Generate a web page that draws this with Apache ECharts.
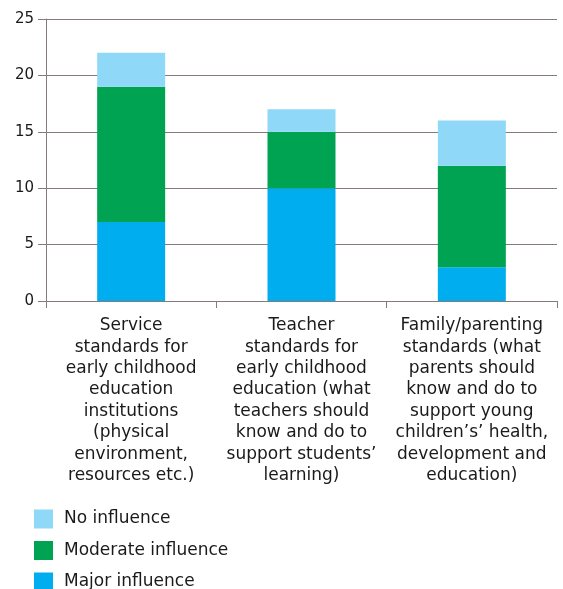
<!DOCTYPE html>
<html>
<head>
<meta charset="utf-8">
<script src="https://cdn.jsdelivr.net/npm/echarts@6/dist/echarts.min.js"></script>
<style>
  html, body { margin: 0; padding: 0; background: #fff; }
  #chart { width: 563px; height: 589px; }
</style>
</head>
<body>
<div id="chart"></div>
<script>
// Types of standards (multi-line category labels)
const categories = [
  'Service\nstandards for\nearly childhood\neducation\ninstitutions\n(physical\nenvironment,\nresources etc.)',
  'Teacher\nstandards for\nearly childhood\neducation (what\nteachers should\nknow and do to\nsupport students\u2019\nlearning)',
  'Family/parenting\nstandards (what\nparents should\nknow and do to\nsupport young\nchildren\u2019s\u2019 health,\ndevelopment and\neducation)'
];

// Number of countries by level of influence
const majorInfluence = [7, 10, 3];
const moderateInfluence = [12, 5, 9];
const noInfluence = [3, 2, 4];

const yTicks = { min: 0, max: 25, interval: 5 };

const axisColor = '#857b7b';
const fontFamily = '"DejaVu Sans", "Open Sans", sans-serif';

const chart = echarts.init(document.getElementById('chart'), null, { renderer: 'canvas' });

chart.setOption({
  animation: false,
  textStyle: { fontFamily: fontFamily },
  grid: { left: 46, right: 6, top: 19, bottom: 288, containLabel: false },
  legend: {
    orient: 'vertical',
    left: 34,
    top: 509.5,
    height: 120,
    padding: 0,
    itemWidth: 19,
    itemHeight: 19,
    itemGap: 12.5,
    icon: 'rect',
    data: ['No influence', 'Moderate influence', 'Major influence'],
    textStyle: { fontSize: 17, color: '#1a1a1a', padding: [0, 0, 0, 6], fontFamily: fontFamily }
  },
  xAxis: {
    type: 'category',
    data: categories,
    axisLine: { show: true, lineStyle: { color: axisColor, width: 1 } },
    axisTick: { show: true, length: 7, lineStyle: { color: axisColor } },
    axisLabel: {
      interval: 0,
      margin: 14,
      fontSize: 17,
      lineHeight: 21.4,
      color: '#1a1a1a',
      align: 'center',
      fontFamily: fontFamily
    }
  },
  yAxis: {
    type: 'value',
    min: yTicks.min,
    max: yTicks.max,
    interval: yTicks.interval,
    axisLine: { show: true, lineStyle: { color: axisColor, width: 1 } },
    axisTick: { show: true, length: 8, lineStyle: { color: axisColor } },
    splitLine: { show: true, lineStyle: { color: axisColor, width: 1 } },
    axisLabel: { fontSize: 15, color: '#1a1a1a', margin: 12, fontFamily: fontFamily }
  },
  series: [
    {
      name: 'Major influence',
      type: 'bar',
      stack: 'total',
      barWidth: 68,
      data: majorInfluence,
      itemStyle: { color: '#00adef' }
    },
    {
      name: 'Moderate influence',
      type: 'bar',
      stack: 'total',
      barWidth: 68,
      data: moderateInfluence,
      itemStyle: { color: '#00a351' }
    },
    {
      name: 'No influence',
      type: 'bar',
      stack: 'total',
      barWidth: 68,
      data: noInfluence,
      itemStyle: { color: '#8fd8f7' }
    }
  ]
});
</script>
</body>
</html>
